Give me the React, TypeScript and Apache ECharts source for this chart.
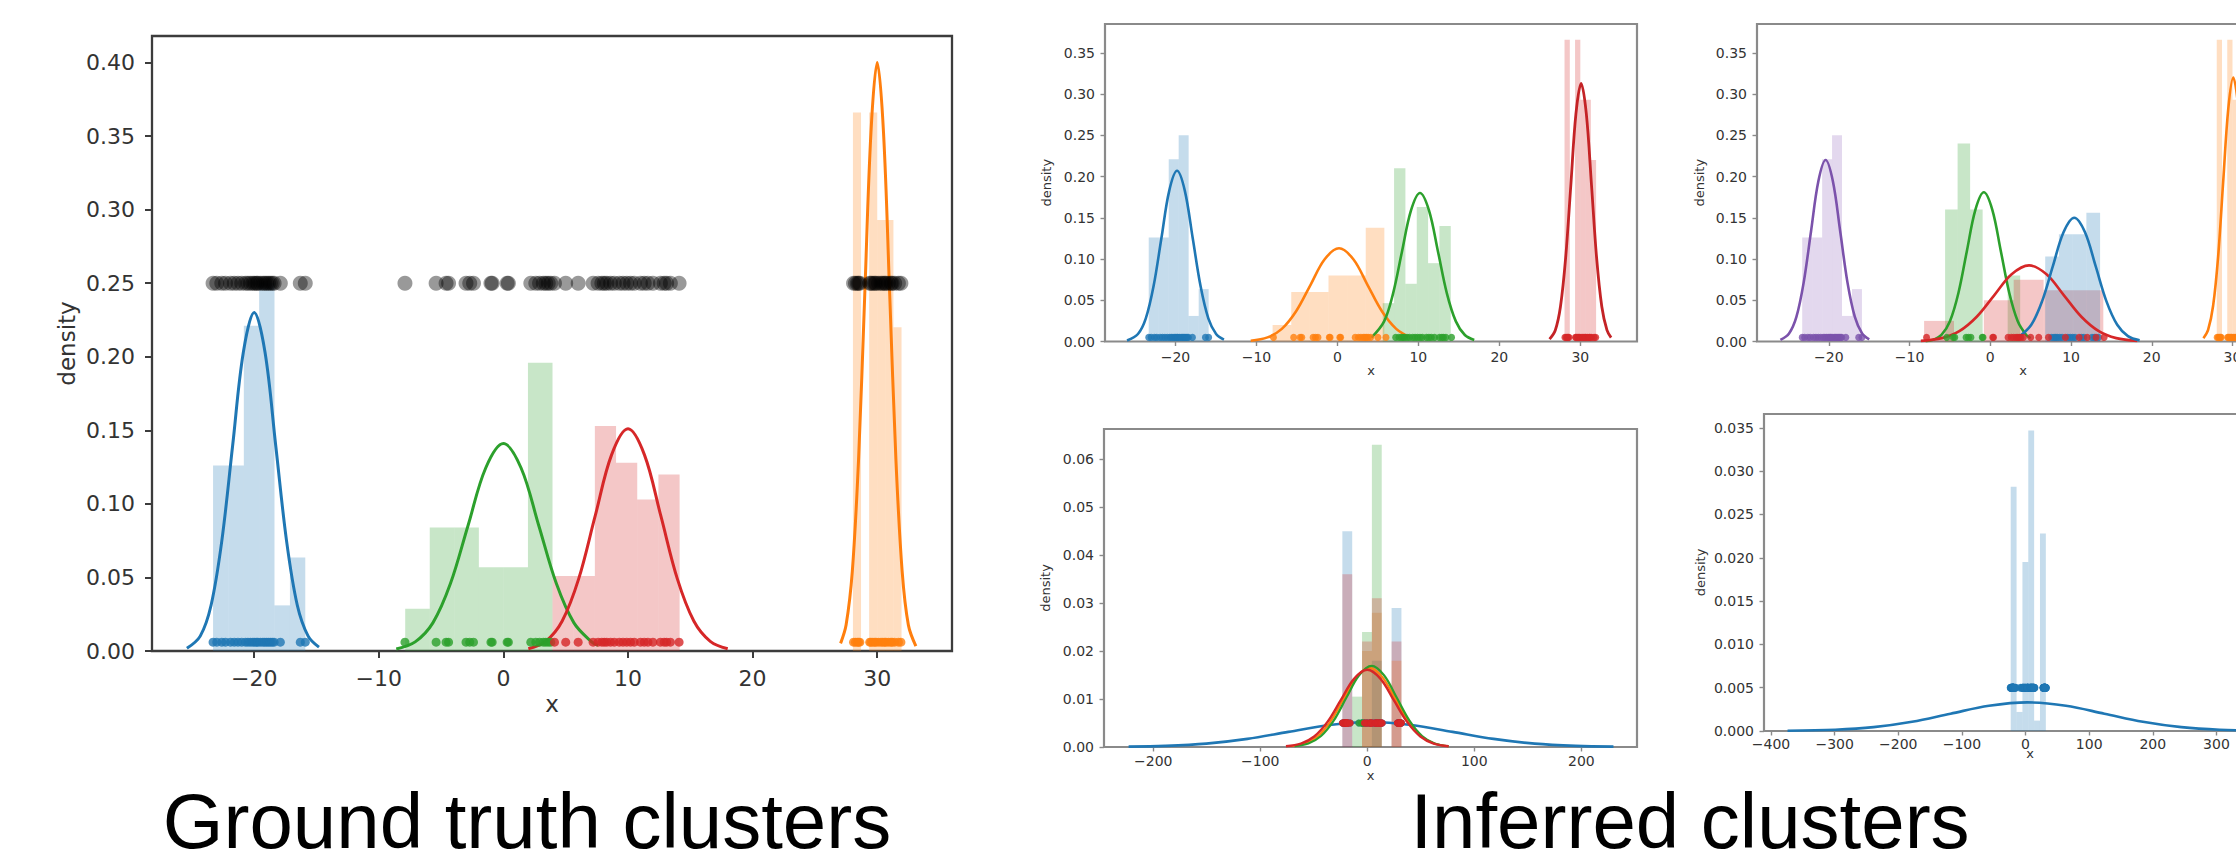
import React, { useEffect, useRef } from "react";
import * as echarts from "echarts";

// ---------- sample positions (x) of the four ground-truth clusters ----------
const ptsBlueGT = [-23.3, -23.0, -22.6, -22.3, -21.9, -21.6, -21.3, -21.0, -20.7, -20.5, -20.3, -20.1, -19.95, -19.8, -19.7, -19.5, -19.3, -19.15, -19.0, -18.85, -18.7, -18.55, -18.4, -17.9, -16.3, -15.9];
const ptsGreenGT = [-7.9, -5.4, -4.6, -4.4, -3.0, -2.7, -2.4, -1.0, -0.9, 0.3, 0.4, 2.2, 2.6, 2.9, 3.2, 3.4, 3.6, 3.8];
const ptsRedGT = [4.1, 5.0, 6.0, 7.2, 7.6, 7.9, 8.1, 8.3, 8.6, 8.9, 9.3, 9.6, 9.9, 10.2, 10.5, 11.0, 11.3, 11.6, 12.0, 12.6, 12.9, 13.1, 13.4, 14.1];
const ptsOrangeGT = [28.1, 28.25, 28.4, 28.5, 28.6, 29.4, 29.5, 29.65, 29.8, 29.9, 30.1, 30.3, 30.45, 30.6, 30.7, 30.9, 31.1, 31.2, 31.4, 31.7, 31.9];

// panel 3 inferred assignments
const p3Green = [-5.4, -4.6, -4.4, -3.0, -2.7, -2.4, -1.0, -0.9];
const p3Red = [-7.9, 0.3, 0.4, 2.2, 2.6, 2.9, 3.2, 3.4, 3.6, 3.8, 4.1, 5.0, 6.0, 7.2, 9.3, 11.0, 12.0, 13.1, 14.1];
const p3Blue = [7.6, 7.9, 8.1, 8.3, 8.6, 8.9, 9.6, 9.9, 10.2, 10.5, 11.3, 11.6, 12.6, 12.9, 13.4];
// panel 4 green assignment
const p4Green = [-7.9, -5.4, -4.6, -4.4, -3.0];

// ---------- histograms: bin edges + densities ----------
const hBlueEdges = [-23.3, -22.07, -20.83, -19.6, -18.37, -17.13, -15.9];
const hBlueHeights = [0.126, 0.126, 0.221, 0.25, 0.031, 0.0635];
const hGreenEdges = [-7.88, -5.91, -3.94, -1.97, 0, 1.97, 3.94];
const hGreenHeights = [0.0287, 0.084, 0.084, 0.057, 0.057, 0.196];
const hRedEdges = [3.94, 5.64, 7.34, 9.04, 10.74, 12.44, 14.14];
const hRedHeights = [0.051, 0.051, 0.153, 0.128, 0.103, 0.12];
const hOrangeEdges = [28.05, 28.7, 29.35, 30.0, 30.65, 31.3, 31.95];
const hOrangeHeights = [0.366, 0, 0.366, 0.293, 0.293, 0.22];

const h2OrangeEdges = [-8.0, -5.7, -3.4, -1.1, 1.2, 3.5, 5.8];
const h2OrangeHeights = [0.02, 0.06, 0.06, 0.08, 0.08, 0.138];
const h2GreenEdges = [5.6, 7.0, 8.4, 9.8, 11.2, 12.6, 14.0];
const h2GreenHeights = [0.0465, 0.21, 0.07, 0.163, 0.095, 0.14];

const h3GreenEdges = [-5.6, -4.05, -2.5, -0.95, 0.6, 2.15, 3.7];
const h3GreenHeights = [0.16, 0.24, 0.16, 0, 0, 0.08];
const h3RedEdges = [-8.2, -4.5, -0.8, 2.9, 6.6, 10.3, 14.0];
const h3RedHeights = [0.025, 0, 0.05, 0.075, 0.062, 0.062];
const h3BlueEdges = [6.8, 8.5, 10.2, 11.9, 13.6];
const h3BlueHeights = [0.103, 0.13, 0.13, 0.156];

const hAllEdges = [-23.3, -14.1, -4.9, 4.3, 13.5, 22.7, 31.9];
const h4BlueHeights = [0.045, 0, 0, 0.018, 0, 0.029];
const h4OrangeHeights = [0, 0, 0.02, 0.028, 0, 0.018];
const h4GreenHeights = [0, 0.0105, 0.024, 0.063, 0, 0];
const h4RedHeights = [0.036, 0, 0.022, 0.031, 0, 0.022];
const h5BlueHeights = [0.0282, 0.0022, 0.0195, 0.0347, 0.0012, 0.0228];

// ---------- fitted density curves [x, density] ----------
const c1Blue = [[-25.4, 0.0018], [-24.33, 0.0101], [-23.46, 0.0311], [-22.6, 0.0747], [-21.73, 0.1395], [-20.87, 0.203], [-20, 0.23], [-19.13, 0.203], [-18.27, 0.1395], [-17.4, 0.0747], [-16.54, 0.0311], [-15.67, 0.0101], [-14.8, 0.0026]];
const c1Green = [[-8.6, 0.0014], [-7.08, 0.0062], [-5.66, 0.0191], [-4.25, 0.0458], [-2.83, 0.0855], [-1.42, 0.1244], [0, 0.141], [1.42, 0.1244], [2.83, 0.0855], [4.25, 0.0458], [5.66, 0.0191], [7.08, 0.0062], [7.6, 0.0038]];
const c1Red = [[2.0, 0.0015], [3.4, 0.0066], [4.72, 0.0204], [6.04, 0.049], [7.36, 0.0916], [8.68, 0.1333], [10, 0.151], [11.32, 0.1333], [12.64, 0.0916], [13.96, 0.049], [15.28, 0.0204], [16.6, 0.0066], [18.0, 0.0015]];
const c1Orange = [[27.06, 0.0052], [27.5, 0.0176], [28.0, 0.0541], [28.5, 0.1299], [29.0, 0.2426], [29.5, 0.353], [30, 0.4], [30.5, 0.353], [31, 0.2426], [31.5, 0.1299], [32, 0.0541], [32.5, 0.0176], [33.1, 0.0033]];

const c2Blue = [[-25.98, 0.0012], [-24.63, 0.0091], [-23.66, 0.028], [-22.7, 0.0672], [-21.73, 0.1255], [-20.77, 0.1827], [-19.8, 0.207], [-18.84, 0.1827], [-17.87, 0.1255], [-16.9, 0.0672], [-15.94, 0.028], [-14.98, 0.0091], [-14.01, 0.0023]];
const c2Orange = [[-10.7, 0.001], [-8.63, 0.005], [-6.86, 0.0153], [-5.1, 0.0367], [-3.33, 0.0685], [-1.57, 0.0997], [0.2, 0.113], [1.97, 0.0997], [3.73, 0.0685], [5.5, 0.0367], [7.26, 0.0153], [8.8, 0.0058]];
const c2Green = [[4.2, 0.0046], [5.77, 0.0244], [6.88, 0.0584], [7.98, 0.1092], [9.09, 0.1589], [10.2, 0.18], [11.31, 0.1589], [12.42, 0.1092], [13.52, 0.0584], [14.63, 0.0244], [15.74, 0.0079], [16.9, 0.0019]];
const c2Red = [[26.2, 0.0029], [26.91, 0.0137], [27.55, 0.0424], [28.19, 0.1016], [28.83, 0.1898], [29.46, 0.2762], [30.1, 0.313], [30.74, 0.2762], [31.38, 0.1898], [32.01, 0.1016], [32.65, 0.0424], [33.29, 0.0137], [33.8, 0.0047]];

const c3Purple = [[-26.0, 0.0019], [-24.93, 0.0097], [-24.02, 0.0298], [-23.12, 0.0714], [-22.21, 0.1334], [-21.3, 0.1942], [-20.4, 0.22], [-19.5, 0.1942], [-18.59, 0.1334], [-17.69, 0.0714], [-16.78, 0.0298], [-15.88, 0.0097], [-15.0, 0.0026]];
const c3Green = [[-8.0, 0.0005], [-7.1, 0.002], [-6.05, 0.0079], [-5.0, 0.0245], [-3.95, 0.0588], [-2.9, 0.1098], [-1.85, 0.1597], [-0.8, 0.181], [0.25, 0.1597], [1.3, 0.1098], [2.35, 0.0588], [3.4, 0.0245], [4.45, 0.0079], [5.0, 0.004]];
const c3Red = [[-8.6, 0.0008], [-6.0, 0.0041], [-3.84, 0.0125], [-1.68, 0.03], [0.48, 0.056], [2.64, 0.0815], [4.8, 0.0923], [6.96, 0.0815], [9.12, 0.056], [11.28, 0.03], [13.44, 0.0125], [15.6, 0.0041], [18.2, 0.0008]];
const c3Blue = [[3.5, 0.0052], [5.08, 0.0203], [6.41, 0.0487], [7.74, 0.091], [9.07, 0.1324], [10.4, 0.15], [11.73, 0.1324], [13.06, 0.091], [14.39, 0.0487], [15.72, 0.0203], [17.05, 0.0066], [18.5, 0.0015]];
const c3Orange = [[26.4, 0.004], [26.98, 0.014], [27.6, 0.0433], [28.23, 0.1039], [28.85, 0.1941], [29.48, 0.2824], [30.1, 0.32], [30.73, 0.2824], [31.35, 0.1941], [31.98, 0.1039], [32.6, 0.0433], [33.23, 0.014], [33.8, 0.0039]];

const c4Blue = [[-223, 0.00007], [-188.75, 0.00023], [-150.4, 0.0007], [-112, 0.00169], [-73.7, 0.00315], [-35.35, 0.00459], [3, 0.0052], [41.35, 0.00459], [79.7, 0.00315], [118, 0.00169], [156.4, 0.0007], [194.75, 0.00023], [230, 0.00007]];
const c4Orange = [[-72, 0.00015], [-58.5, 0.00072], [-46.4, 0.00223], [-34.3, 0.00536], [-22.2, 0.01], [-10.1, 0.01456], [2, 0.0165], [14.1, 0.01456], [26.2, 0.01], [38.3, 0.00536], [50.4, 0.00223], [62.5, 0.00072], [76, 0.00015]];
const c4Green = [[-68, 0.00016], [-55, 0.00074], [-43.2, 0.00229], [-31.4, 0.00549], [-19.6, 0.01025], [-7.8, 0.01491], [4, 0.0169], [15.8, 0.01491], [27.6, 0.01025], [39.4, 0.00549], [51.2, 0.00229], [63, 0.00074], [76, 0.00016]];
const c4Red = [[-76, 0.00015], [-62, 0.00071], [-49.6, 0.00218], [-37.2, 0.00523], [-24.8, 0.00976], [-12.4, 0.01421], [0, 0.0161], [12.4, 0.01421], [24.8, 0.00976], [37.2, 0.00523], [49.6, 0.00218], [62, 0.00071], [76, 0.00015]];
const c5Blue = [[-374, 0.000025], [-299, 0.000145], [-238.8, 0.000447], [-178.4, 0.00107], [-117.9, 0.002], [-57.5, 0.00291], [3, 0.0033], [63.5, 0.00291], [123.9, 0.002], [184.4, 0.00107], [244.8, 0.000447], [305, 0.000145], [380, 0.000025]];

// ---------- tick values ----------
const xTicksSmall = [-20, -10, 0, 10, 20, 30];
const yTicksP1 = [0, 0.05, 0.1, 0.15, 0.2, 0.25, 0.3, 0.35, 0.4];
const yTicksP23 = [0, 0.05, 0.1, 0.15, 0.2, 0.25, 0.3, 0.35];
const xTicksP4 = [-200, -100, 0, 100, 200];
const yTicksP4 = [0, 0.01, 0.02, 0.03, 0.04, 0.05, 0.06];
const xTicksP5 = [-400, -300, -200, -100, 0, 100, 200, 300];
const yTicksP5 = [0, 0.005, 0.01, 0.015, 0.02, 0.025, 0.03, 0.035];

const titles = ["Ground truth clusters", "Inferred clusters"];

const COL = { blue: "#1f77b4", orange: "#ff7f0e", green: "#2ca02c", red: "#d62728", purple: "#9467bd" };
const HIST_ALPHA = 0.26;

function rgba(hex: string, a: number) {
  const n = parseInt(hex.slice(1), 16);
  return `rgba(${(n >> 16) & 255},${(n >> 8) & 255},${n & 255},${a})`;
}

function hist(gi: number, edges: number[], heights: number[], color: string) {
  const data = heights.map((h, i) => [edges[i], edges[i + 1], h]).filter((d) => d[2] > 0);
  return {
    type: "custom",
    xAxisIndex: gi,
    yAxisIndex: gi,
    silent: true,
    z: 1,
    encode: { x: [0, 1], y: 2 },
    data,
    renderItem: (_p: any, api: any) => {
      const a = api.coord([api.value(0), api.value(2)]);
      const b = api.coord([api.value(1), 0]);
      return {
        type: "rect",
        shape: { x: a[0], y: a[1], width: b[0] - a[0], height: b[1] - a[1] },
        style: { fill: rgba(color, HIST_ALPHA) },
      };
    },
  };
}

function curve(gi: number, pts: number[][], color: string, w: number) {
  return {
    type: "line",
    xAxisIndex: gi,
    yAxisIndex: gi,
    data: pts,
    smooth: 0.35,
    symbol: "none",
    showSymbol: false,
    silent: true,
    z: 3,
    lineStyle: { color, width: w },
  };
}

function dots(gi: number, xs: number[], y: number, color: string, size: number) {
  return {
    type: "scatter",
    xAxisIndex: gi,
    yAxisIndex: gi,
    data: xs.map((x) => [x, y]),
    symbolSize: size,
    silent: true,
    z: 4,
    itemStyle: { color },
  };
}

type Panel = {
  grid: { left: number; top: number; width: number; height: number };
  xMin: number; xMax: number; yMax: number;
  xTicks: number[]; yTicks: number[]; yDec: number;
  tickFont: number; nameFont: number; tickLen: number; tickW: number;
  frameColor: string; frameW: number; labelColor: string;
  xMargin: number; yMargin: number; xNameGap: number; yNameGap: number;
};

const small = {
  tickFont: 14, nameFont: 13, tickLen: 4.5, tickW: 1.4,
  frameColor: "#8a8a8a", frameW: 2.2, labelColor: "#333",
  yMargin: 10,
};

const panels: Panel[] = [
  {
    grid: { left: 152, top: 36, width: 800, height: 615 },
    xMin: -28.2, xMax: 36.0, yMax: 0.418, xTicks: xTicksSmall, yTicks: yTicksP1, yDec: 2,
    tickFont: 22, nameFont: 23, tickLen: 7, tickW: 2, frameColor: "#3c3c3c", frameW: 2.3, labelColor: "#333",
    xMargin: 16, yMargin: 17, xNameGap: 41, yNameGap: 74,
  },
  {
    grid: { left: 1105, top: 24, width: 532, height: 317.5 },
    xMin: -28.7, xMax: 37.0, yMax: 0.385, xTicks: xTicksSmall, yTicks: yTicksP23, yDec: 2,
    ...small, xMargin: 8, xNameGap: 22, yNameGap: 52,
  },
  {
    grid: { left: 1757, top: 24, width: 532, height: 317.5 },
    xMin: -28.9, xMax: 37.0, yMax: 0.385, xTicks: xTicksSmall, yTicks: yTicksP23, yDec: 2,
    ...small, xMargin: 8, xNameGap: 22, yNameGap: 51,
  },
  {
    grid: { left: 1104, top: 429, width: 533, height: 318 },
    xMin: -246, xMax: 252, yMax: 0.0663, xTicks: xTicksP4, yTicks: yTicksP4, yDec: 2,
    ...small, xMargin: 7, xNameGap: 22, yNameGap: 52,
  },
  {
    grid: { left: 1764, top: 414, width: 532, height: 317 },
    xMin: -411, xMax: 425, yMax: 0.0366, xTicks: xTicksP5, yTicks: yTicksP5, yDec: 3,
    ...small, xMargin: 6, xNameGap: 16, yNameGap: 57,
  },
];

const fmtX = (v: number) => (v < 0 ? "\u2212" + Math.abs(v) : String(v));

function buildOption() {
  const grids = panels.map((p) => ({
    ...p.grid,
    show: true,
    borderColor: p.frameColor,
    borderWidth: p.frameW,
    backgroundColor: "transparent",
    containLabel: false,
    outerBoundsMode: "none",
  }));
  const xAxis = panels.map((p, i) => ({
    gridIndex: i,
    type: "value",
    min: p.xMin,
    max: p.xMax,
    splitLine: { show: false },
    axisLine: { show: false, onZero: false },
    axisTick: { show: true, length: p.tickLen, lineStyle: { color: p.frameColor, width: p.tickW }, customValues: p.xTicks },
    axisLabel: {
      show: true, customValues: p.xTicks, formatter: (v: number) => fmtX(v),
      fontSize: p.tickFont, fontFamily: "DejaVu Sans", color: p.labelColor, margin: p.xMargin,
    },
    name: "x",
    nameLocation: "middle",
    nameGap: p.xNameGap,
    nameMoveOverlap: false,
    nameTextStyle: { fontSize: p.nameFont, fontFamily: "DejaVu Sans", color: p.labelColor },
  }));
  const yAxis = panels.map((p, i) => ({
    gridIndex: i,
    type: "value",
    min: 0,
    max: p.yMax,
    splitLine: { show: false },
    axisLine: { show: false, onZero: false },
    axisTick: { show: true, length: p.tickLen, lineStyle: { color: p.frameColor, width: p.tickW }, customValues: p.yTicks },
    axisLabel: {
      show: true, customValues: p.yTicks, formatter: (v: number) => v.toFixed(p.yDec),
      fontSize: p.tickFont, fontFamily: "DejaVu Sans", color: p.labelColor, margin: p.yMargin,
    },
    name: "density",
    nameLocation: "middle",
    nameGap: p.yNameGap,
    nameMoveOverlap: false,
    nameTextStyle: { fontSize: p.nameFont, fontFamily: "DejaVu Sans", color: p.labelColor },
  }));

  const allPts = [...ptsBlueGT, ...ptsGreenGT, ...ptsRedGT, ...ptsOrangeGT];
  const p2Orange = [...ptsGreenGT, ...ptsRedGT.filter((x) => x < 6.5)];
  const p2Green = ptsRedGT.filter((x) => x >= 6.5);
  const p4Red = allPts.filter((x) => !p4Green.includes(x));

  const LW = 2.6;
  const DS = 7;
  const series: any[] = [
    // ---- panel 0: ground truth ----
    hist(0, hBlueEdges, hBlueHeights, COL.blue),
    hist(0, hGreenEdges, hGreenHeights, COL.green),
    hist(0, hRedEdges, hRedHeights, COL.red),
    hist(0, hOrangeEdges, hOrangeHeights, COL.orange),
    curve(0, c1Blue, COL.blue, 3),
    curve(0, c1Green, COL.green, 3),
    curve(0, c1Red, COL.red, 3),
    curve(0, c1Orange, COL.orange, 3),
    dots(0, ptsBlueGT, 0.006, COL.blue, 9),
    dots(0, ptsGreenGT, 0.006, COL.green, 9),
    dots(0, ptsRedGT, 0.006, COL.red, 9),
    dots(0, ptsOrangeGT, 0.006, COL.orange, 9),
    dots(0, allPts, 0.25, "rgba(0,0,0,0.5)", 15),
    // ---- panel 1 ----
    hist(1, hBlueEdges, hBlueHeights, COL.blue),
    hist(1, h2OrangeEdges, h2OrangeHeights, COL.orange),
    hist(1, h2GreenEdges, h2GreenHeights, COL.green),
    hist(1, hOrangeEdges, hOrangeHeights, COL.red),
    curve(1, c2Blue, COL.blue, LW),
    curve(1, c2Orange, COL.orange, LW),
    curve(1, c2Green, COL.green, LW),
    curve(1, c2Red, "#c42326", LW + 0.2),
    dots(1, ptsBlueGT, 0.005, COL.blue, DS),
    dots(1, p2Orange, 0.005, COL.orange, DS),
    dots(1, p2Green, 0.005, COL.green, DS),
    dots(1, ptsOrangeGT, 0.005, COL.red, DS),
    // ---- panel 2 ----
    hist(2, hBlueEdges, hBlueHeights, COL.purple),
    hist(2, h3GreenEdges, h3GreenHeights, COL.green),
    hist(2, h3RedEdges, h3RedHeights, COL.red),
    hist(2, h3BlueEdges, h3BlueHeights, COL.blue),
    hist(2, hOrangeEdges, hOrangeHeights, COL.orange),
    curve(2, c3Purple, "#7b52ab", LW),
    curve(2, c3Green, COL.green, LW),
    curve(2, c3Red, COL.red, LW),
    curve(2, c3Blue, COL.blue, LW),
    curve(2, c3Orange, COL.orange, LW),
    dots(2, ptsBlueGT, 0.005, "#7b52ab", DS),
    dots(2, p3Green, 0.005, COL.green, DS),
    dots(2, p3Blue, 0.005, COL.blue, DS),
    dots(2, p3Red, 0.005, COL.red, DS),
    dots(2, ptsOrangeGT, 0.005, COL.orange, DS),
    // ---- panel 3 ----
    hist(3, hAllEdges, h4BlueHeights, COL.blue),
    hist(3, hAllEdges, h4OrangeHeights, COL.orange),
    hist(3, hAllEdges, h4GreenHeights, COL.green),
    hist(3, hAllEdges, h4RedHeights, COL.red),
    curve(3, c4Blue, COL.blue, LW),
    curve(3, c4Orange, COL.orange, 2.2),
    curve(3, c4Green, COL.green, 2.2),
    curve(3, c4Red, COL.red, 2.4),
    dots(3, allPts, 0.005, COL.blue, DS),
    dots(3, p4Green, 0.005, COL.green, DS),
    dots(3, p4Red, 0.005, COL.red, DS),
    // ---- panel 4 ----
    hist(4, hAllEdges, h5BlueHeights, COL.blue),
    curve(4, c5Blue, COL.blue, LW),
    dots(4, allPts, 0.005, COL.blue, 8),
  ];

  const titleStyle = {
    font: '78px "Liberation Sans", Arial, sans-serif',
    fill: "#000",
    textAlign: "center",
    textVerticalAlign: "middle",
    lineHeight: 60,
  };

  return {
    animation: false,
    backgroundColor: "#ffffff",
    grid: grids,
    xAxis,
    yAxis,
    series,
    graphic: [
      { type: "text", x: 527, y: 821, silent: true, style: { ...titleStyle, text: titles[0] } },
      { type: "text", x: 1690, y: 821, silent: true, style: { ...titleStyle, text: titles[1] } },
    ],
  };
}

export default function App() {
  const ref = useRef<HTMLDivElement>(null);
  useEffect(() => {
    if (!ref.current) return;
    const chart = echarts.init(ref.current, null, { renderer: "svg" });
    chart.setOption(buildOption() as any);
    return () => chart.dispose();
  }, []);
  return (
    <div
      ref={ref}
      style={{ position: "fixed", left: 0, top: 0, width: 2236, height: 861, background: "#fff" }}
    />
  );
}
